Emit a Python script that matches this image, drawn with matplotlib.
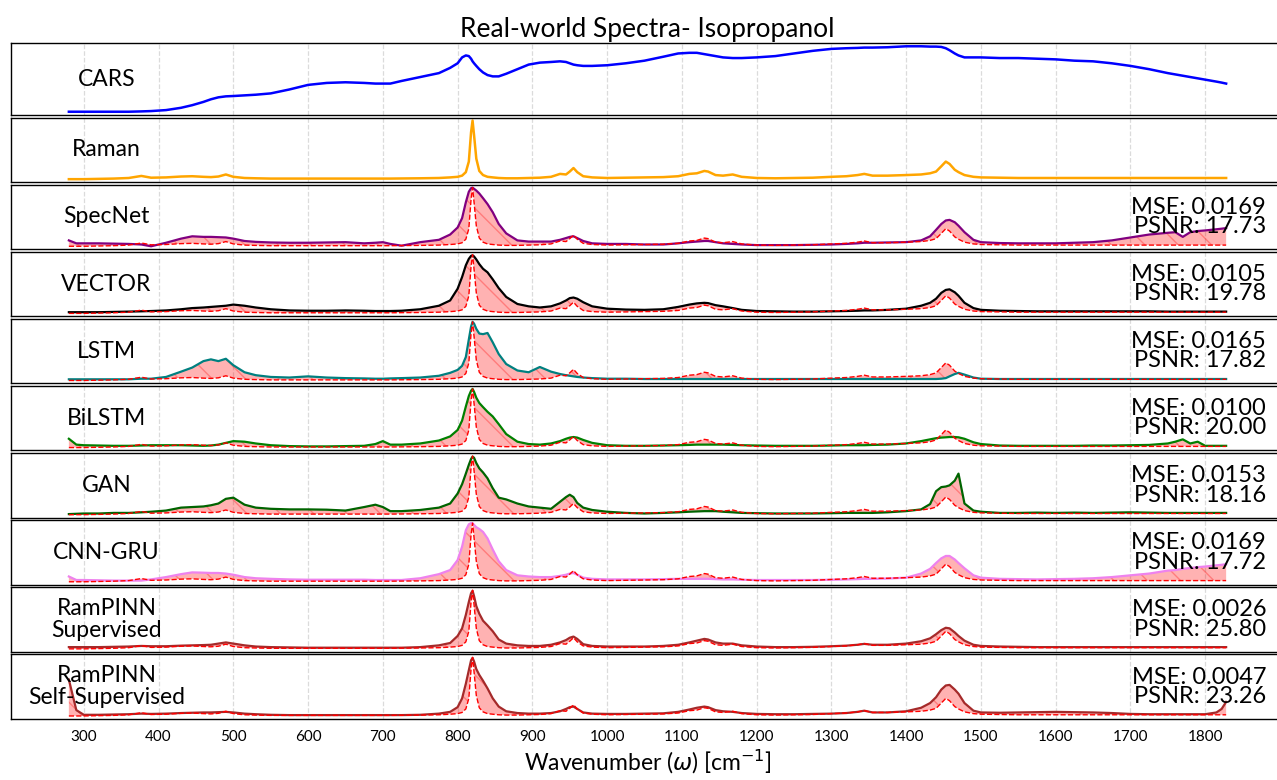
import numpy as np
import matplotlib
matplotlib.use("Agg")
import matplotlib.pyplot as plt

plt.rcParams['font.family'] = ['Lato', 'DejaVu Sans']

# wavenumber grid (cm^-1), denser around the sharp bands
wavenumber = [280, 290, 300, 320, 340, 360, 377, 390, 410, 430,
              445, 460, 470, 480, 490, 500, 515, 530, 550, 575,
              600, 625, 650, 675, 690, 700, 710, 725, 750, 775,
              790, 800, 806, 811, 815, 818, 820, 822, 825, 829,
              834, 840, 847, 855, 865, 880, 895, 910, 925, 937,
              945, 950, 955, 960, 968, 980, 1000, 1025, 1050, 1075,
              1095, 1110, 1120, 1130, 1135, 1145, 1155, 1168, 1180, 1200,
              1225, 1250, 1275, 1300, 1320, 1335, 1344, 1355, 1375, 1400,
              1420, 1432, 1440, 1447, 1453, 1458, 1465, 1470, 1478, 1490,
              1500, 1525, 1550, 1575, 1600, 1625, 1650, 1675, 1700, 1725,
              1750, 1760, 1770, 1780, 1790, 1800, 1815, 1822, 1828]

cars = [0.0, 0.0, 0.0, 0.0, 0.0, 0.0, 0.005, 0.01, 0.025, 0.06,
        0.10, 0.15, 0.19, 0.22, 0.235, 0.24, 0.25, 0.26, 0.28, 0.34,
        0.41, 0.44, 0.45, 0.44, 0.43, 0.43, 0.43, 0.47, 0.53, 0.59,
        0.67, 0.74, 0.83, 0.86, 0.85, 0.81, 0.77, 0.74, 0.70, 0.65,
        0.60, 0.56, 0.54, 0.54, 0.58, 0.65, 0.72, 0.75, 0.76, 0.77,
        0.76, 0.74, 0.72, 0.71, 0.70, 0.70, 0.71, 0.74, 0.78, 0.84,
        0.89, 0.90, 0.90, 0.88, 0.87, 0.85, 0.83, 0.82, 0.82, 0.83,
        0.85, 0.89, 0.93, 0.96, 0.97, 0.975, 0.98, 0.98, 0.985, 1.0,
        1.0, 0.995, 0.995, 0.99, 0.97, 0.94, 0.89, 0.86, 0.83, 0.83,
        0.83, 0.82, 0.82, 0.81, 0.80, 0.78, 0.77, 0.74, 0.70, 0.65,
        0.59, 0.57, 0.55, 0.53, 0.51, 0.49, 0.46, 0.445, 0.43]

raman = [0.0, 0.0, 0.0, 0.005, 0.01, 0.02, 0.055, 0.025, 0.03, 0.045,
         0.05, 0.04, 0.035, 0.045, 0.08, 0.04, 0.02, 0.015, 0.01, 0.01,
         0.01, 0.01, 0.01, 0.01, 0.01, 0.01, 0.01, 0.012, 0.015, 0.02,
         0.03, 0.04, 0.06, 0.12, 0.3, 0.8, 1.0, 0.75, 0.35, 0.14,
         0.07, 0.04, 0.03, 0.02, 0.015, 0.015, 0.02, 0.025, 0.04, 0.09,
         0.08, 0.13, 0.19, 0.12, 0.05, 0.03, 0.02, 0.025, 0.03, 0.035,
         0.05, 0.09, 0.1, 0.14, 0.13, 0.07, 0.06, 0.08, 0.04, 0.02,
         0.015, 0.02, 0.025, 0.04, 0.05, 0.07, 0.09, 0.06, 0.06, 0.07,
         0.08, 0.1, 0.13, 0.22, 0.3, 0.26, 0.16, 0.12, 0.07, 0.04,
         0.03, 0.025, 0.02, 0.02, 0.02, 0.02, 0.02, 0.02, 0.02, 0.02,
         0.02, 0.02, 0.02, 0.02, 0.02, 0.02, 0.02, 0.02, 0.02]

specnet = [0.10, 0.05, 0.05, 0.05, 0.045, 0.04, 0.03, 0.0, 0.06, 0.13,
           0.17, 0.16, 0.16, 0.155, 0.15, 0.13, 0.09, 0.075, 0.065, 0.06,
           0.06, 0.065, 0.07, 0.05, 0.06, 0.07, 0.04, 0.01, 0.07, 0.11,
           0.2, 0.32, 0.48, 0.75, 0.93, 0.99, 1.0, 0.98, 0.95, 0.9,
           0.82, 0.72, 0.58, 0.38, 0.22, 0.10, 0.08, 0.08, 0.08, 0.11,
           0.14, 0.16, 0.17, 0.14, 0.09, 0.05, 0.04, 0.04, 0.03, 0.03,
           0.05, 0.07, 0.08, 0.09, 0.09, 0.07, 0.05, 0.04, 0.03, 0.02,
           0.02, 0.02, 0.025, 0.03, 0.04, 0.05, 0.06, 0.06, 0.065, 0.07,
           0.1, 0.17, 0.28, 0.38, 0.44, 0.45, 0.41, 0.35, 0.24, 0.11,
           0.07, 0.055, 0.05, 0.05, 0.05, 0.06, 0.07, 0.1, 0.15, 0.2,
           0.23, 0.24, 0.16, 0.24, 0.26, 0.27, 0.29, 0.30, 0.31]

vector = [0.02, 0.02, 0.02, 0.02, 0.025, 0.03, 0.035, 0.04, 0.05, 0.07,
          0.09, 0.10, 0.11, 0.12, 0.13, 0.15, 0.13, 0.10, 0.07, 0.05,
          0.045, 0.045, 0.05, 0.045, 0.04, 0.04, 0.04, 0.045, 0.07, 0.13,
          0.22, 0.42, 0.62, 0.82, 0.93, 0.98, 0.99, 0.97, 0.92, 0.84,
          0.76, 0.70, 0.58, 0.43, 0.28, 0.16, 0.12, 0.10, 0.12, 0.17,
          0.22, 0.26, 0.27, 0.25, 0.19, 0.12, 0.08, 0.065, 0.06, 0.07,
          0.11, 0.15, 0.17, 0.18, 0.175, 0.14, 0.12, 0.09, 0.06, 0.04,
          0.035, 0.03, 0.03, 0.035, 0.04, 0.045, 0.05, 0.05, 0.06, 0.08,
          0.13, 0.18, 0.25, 0.35, 0.40, 0.41, 0.36, 0.30, 0.18, 0.09,
          0.06, 0.045, 0.04, 0.035, 0.035, 0.035, 0.035, 0.035, 0.035, 0.035,
          0.03, 0.03, 0.03, 0.03, 0.03, 0.03, 0.03, 0.03, 0.03]

lstm = [0.02, 0.02, 0.02, 0.02, 0.02, 0.02, 0.03, 0.03, 0.06, 0.15,
        0.22, 0.33, 0.36, 0.33, 0.37, 0.26, 0.14, 0.09, 0.06, 0.05,
        0.07, 0.05, 0.04, 0.035, 0.03, 0.03, 0.035, 0.04, 0.05, 0.08,
        0.13, 0.18, 0.25, 0.40, 0.70, 0.92, 1.0, 0.97, 0.88, 0.80,
        0.79, 0.81, 0.65, 0.45, 0.28, 0.17, 0.14, 0.23, 0.15, 0.11,
        0.09, 0.08, 0.07, 0.06, 0.05, 0.04, 0.03, 0.03, 0.025, 0.025,
        0.025, 0.025, 0.025, 0.025, 0.025, 0.025, 0.025, 0.025, 0.025, 0.025,
        0.025, 0.025, 0.025, 0.025, 0.025, 0.025, 0.025, 0.025, 0.025, 0.025,
        0.025, 0.025, 0.025, 0.03, 0.04, 0.07, 0.11, 0.13, 0.10, 0.05,
        0.03, 0.025, 0.025, 0.025, 0.025, 0.025, 0.025, 0.025, 0.025, 0.025,
        0.025, 0.025, 0.025, 0.025, 0.025, 0.025, 0.025, 0.025, 0.025]

bilstm = [0.15, 0.05, 0.04, 0.035, 0.03, 0.03, 0.035, 0.04, 0.04, 0.04,
          0.035, 0.03, 0.035, 0.05, 0.08, 0.11, 0.10, 0.07, 0.04, 0.025,
          0.02, 0.02, 0.025, 0.03, 0.06, 0.11, 0.05, 0.05, 0.07, 0.12,
          0.19, 0.30, 0.46, 0.70, 0.88, 0.97, 1.0, 0.95, 0.85, 0.76,
          0.69, 0.61, 0.53, 0.40, 0.23, 0.10, 0.06, 0.05, 0.07, 0.11,
          0.15, 0.17, 0.18, 0.17, 0.13, 0.08, 0.04, 0.03, 0.03, 0.035,
          0.04, 0.045, 0.05, 0.05, 0.05, 0.05, 0.05, 0.045, 0.04, 0.035,
          0.03, 0.03, 0.03, 0.035, 0.04, 0.04, 0.04, 0.045, 0.05, 0.07,
          0.11, 0.14, 0.16, 0.17, 0.175, 0.18, 0.18, 0.175, 0.15, 0.09,
          0.06, 0.035, 0.03, 0.03, 0.03, 0.03, 0.035, 0.035, 0.04, 0.045,
          0.07, 0.10, 0.14, 0.07, 0.10, 0.03, 0.03, 0.03, 0.03]

gan = [0.01, 0.015, 0.02, 0.02, 0.03, 0.03, 0.04, 0.05, 0.07, 0.12,
       0.13, 0.14, 0.16, 0.19, 0.27, 0.29, 0.17, 0.12, 0.10, 0.09,
       0.09, 0.085, 0.07, 0.13, 0.17, 0.13, 0.06, 0.06, 0.08, 0.12,
       0.19, 0.36, 0.52, 0.70, 0.85, 0.95, 0.99, 0.97, 0.88, 0.79,
       0.72, 0.62, 0.45, 0.29, 0.26, 0.19, 0.14, 0.12, 0.10, 0.22,
       0.30, 0.34, 0.30, 0.20, 0.12, 0.08, 0.05, 0.03, 0.02, 0.03,
       0.04, 0.05, 0.055, 0.06, 0.06, 0.06, 0.05, 0.04, 0.03, 0.025,
       0.02, 0.02, 0.02, 0.025, 0.03, 0.03, 0.03, 0.03, 0.04, 0.06,
       0.09, 0.18, 0.40, 0.47, 0.48, 0.50, 0.58, 0.70, 0.19, 0.07,
       0.05, 0.03, 0.03, 0.035, 0.03, 0.035, 0.03, 0.035, 0.04, 0.035,
       0.03, 0.03, 0.03, 0.03, 0.03, 0.03, 0.03, 0.03, 0.03]

cnn_gru = [0.09, 0.03, 0.03, 0.025, 0.02, 0.02, 0.02, 0.04, 0.08, 0.13,
           0.16, 0.155, 0.15, 0.15, 0.14, 0.12, 0.08, 0.06, 0.05, 0.04,
           0.035, 0.035, 0.035, 0.035, 0.03, 0.03, 0.03, 0.03, 0.06, 0.13,
           0.2, 0.37, 0.6, 0.88, 0.98, 1.0, 1.0, 0.97, 0.93, 0.90,
           0.85, 0.74, 0.55, 0.35, 0.2, 0.11, 0.09, 0.08, 0.08, 0.1,
           0.12, 0.14, 0.15, 0.12, 0.07, 0.05, 0.04, 0.04, 0.04, 0.045,
           0.05, 0.05, 0.05, 0.05, 0.05, 0.045, 0.04, 0.04, 0.035, 0.03,
           0.03, 0.03, 0.03, 0.035, 0.04, 0.045, 0.05, 0.05, 0.055, 0.07,
           0.14, 0.22, 0.32, 0.40, 0.44, 0.44, 0.38, 0.32, 0.23, 0.11,
           0.07, 0.05, 0.045, 0.04, 0.045, 0.05, 0.06, 0.08, 0.11, 0.14,
           0.19, 0.2, 0.22, 0.235, 0.25, 0.26, 0.28, 0.29, 0.30]

rampinn_sup = [0.03, 0.03, 0.03, 0.03, 0.035, 0.04, 0.05, 0.045, 0.045, 0.055,
               0.06, 0.065, 0.07, 0.09, 0.11, 0.09, 0.06, 0.04, 0.03, 0.025,
               0.02, 0.02, 0.02, 0.02, 0.02, 0.02, 0.02, 0.02, 0.03, 0.06,
               0.1, 0.22, 0.35, 0.58, 0.8, 0.95, 0.99, 0.9, 0.73, 0.6,
               0.48, 0.4, 0.3, 0.16, 0.09, 0.06, 0.05, 0.05, 0.07, 0.11,
               0.15, 0.19, 0.21, 0.17, 0.08, 0.05, 0.04, 0.04, 0.04, 0.05,
               0.07, 0.11, 0.14, 0.17, 0.16, 0.11, 0.09, 0.09, 0.06, 0.04,
               0.03, 0.03, 0.035, 0.045, 0.055, 0.07, 0.085, 0.07, 0.07, 0.09,
               0.13, 0.18, 0.25, 0.32, 0.36, 0.35, 0.28, 0.22, 0.14, 0.07,
               0.05, 0.04, 0.035, 0.03, 0.03, 0.03, 0.03, 0.03, 0.03, 0.03,
               0.03, 0.03, 0.03, 0.03, 0.03, 0.03, 0.03, 0.03, 0.03]

rampinn_self = [0.62, 0.10, 0.02, 0.02, 0.025, 0.03, 0.04, 0.035, 0.04, 0.05,
                0.055, 0.06, 0.06, 0.065, 0.07, 0.06, 0.04, 0.03, 0.02, 0.015,
                0.015, 0.015, 0.015, 0.015, 0.015, 0.015, 0.015, 0.015, 0.02, 0.04,
                0.07, 0.15, 0.3, 0.55, 0.78, 0.95, 0.99, 0.93, 0.8, 0.7,
                0.6, 0.47, 0.3, 0.16, 0.08, 0.05, 0.04, 0.04, 0.05, 0.08,
                0.12, 0.15, 0.16, 0.12, 0.06, 0.04, 0.035, 0.035, 0.04, 0.045,
                0.07, 0.11, 0.14, 0.16, 0.15, 0.1, 0.08, 0.07, 0.05, 0.035,
                0.03, 0.03, 0.035, 0.04, 0.05, 0.07, 0.09, 0.06, 0.06, 0.08,
                0.14, 0.22, 0.32, 0.45, 0.52, 0.53, 0.45, 0.38, 0.22, 0.09,
                0.06, 0.055, 0.06, 0.065, 0.07, 0.065, 0.06, 0.05, 0.035, 0.03,
                0.03, 0.03, 0.03, 0.03, 0.03, 0.03, 0.06, 0.12, 0.24]

model_names = ['SpecNet', 'VECTOR', 'LSTM', 'BiLSTM', 'GAN', 'CNN-GRU',
               'RamPINN\nSupervised', 'RamPINN\nSelf-Supervised']
model_preds = [specnet, vector, lstm, bilstm, gan, cnn_gru, rampinn_sup, rampinn_self]
model_colors = ['purple', 'black', 'teal', 'green', 'darkgreen', 'violet', 'brown', 'brown']
mse = [0.0169, 0.0105, 0.0165, 0.0100, 0.0153, 0.0169, 0.0026, 0.0047]
psnr = [17.73, 19.78, 17.82, 20.00, 18.16, 17.72, 25.80, 23.26]

xticks = list(range(300, 1900, 100))

W, H = 1277, 780
fig = plt.figure(figsize=(W / 100, H / 100), dpi=100)

# panel heights in pixels, the CARS panel is a bit taller
heights = [72] + [64.5] * 9
gap = 2.6
left_px, right_px = 11, 1284

axes = []
top = 43
for i, h in enumerate(heights):
    rect = [left_px / W, 1 - (top + h) / H, (right_px - left_px) / W, h / H]
    ax = fig.add_axes(rect, sharex=axes[0] if axes else None)
    axes.append(ax)
    top += h + gap

wn = np.array(wavenumber)

def style(ax, label):
    ax.set_yticks([])
    ax.set_xticks(xticks)
    ax.tick_params(axis='x', length=0, labelbottom=False, labelsize=11, pad=8)
    ax.grid(axis='x', linestyle='--', color='lightgray', linewidth=0.9, alpha=0.8)
    ax.set_axisbelow(True)
    for s in ax.spines.values():
        s.set_linewidth(1.0)
    ax.text(0.075, 0.5, label, transform=ax.transAxes, ha='center', va='center',
            fontsize=16.5, linespacing=1.05)

axes[0].plot(wn, cars, color='blue', linewidth=1.8)
style(axes[0], 'CARS')
axes[0].set_title('Real-world Spectra- Isopropanol', fontsize=19, pad=4)

axes[1].plot(wn, raman, color='orange', linewidth=1.8)
style(axes[1], 'Raman')

for i, name in enumerate(model_names):
    ax = axes[i + 2]
    pred = np.array(model_preds[i])
    ref = np.array(raman)
    ax.fill_between(wn, ref, pred, facecolor='red', edgecolor='red', alpha=0.3,
                    linewidth=0, hatch='\\')
    ax.plot(wn, pred, color=model_colors[i], linewidth=1.6, zorder=3)
    ax.plot(wn, ref, color='red', linestyle='--', linewidth=1.0, zorder=4)
    style(ax, name)
    ax.text(0.986, 0.5, f'MSE: {mse[i]:.4f}\nPSNR: {psnr[i]:.2f}', transform=ax.transAxes,
            ha='right', va='center', fontsize=17, linespacing=0.9, zorder=5)

axes[-1].tick_params(axis='x', labelbottom=True)
axes[-1].set_xlabel(r'Wavenumber ($\omega$) [cm$^{-1}$]', fontsize=16.5, labelpad=3)

fig.savefig('out.png', dpi=100)
